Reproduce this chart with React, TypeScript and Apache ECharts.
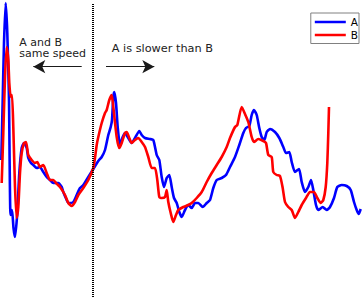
import React, { useEffect, useRef } from "react";
import * as echarts from "echarts";

// Series A (blue)
const aX = [1.3, 2.7, 4, 5.7, 7.3, 9, 10.5, 12, 13.5, 15, 17.3, 19.3, 21.7, 24, 26.7, 28.3, 31, 33.3, 36.7, 40, 43.3, 46.7, 50, 53.3, 58.3, 61.7, 63.3, 66.7, 68.3, 70, 73.3, 76.7, 80, 83.3, 88.3, 93.3, 98.3, 101.7, 105, 108.3, 110.7, 112, 113.3, 114.3, 116, 117.7, 120, 122.7, 125, 128.3, 131.7, 135, 139.3, 141.7, 145, 150, 153.3, 156.7, 159.3, 161.7, 164, 166.7, 169.3, 171.7, 174, 176.7, 179.3, 181.7, 185, 188.3, 191.7, 195, 198.3, 202.7, 206.7, 210, 213.3, 216.7, 221.7, 226, 230, 235, 239.3, 243.3, 246, 249.3, 251.7, 254, 256.7, 259.3, 261.7, 264.3, 266.7, 270, 275, 279.3, 283.3, 286, 289.3, 291.7, 295, 299, 301.7, 305, 308.3, 311, 313.3, 316, 318.3, 322.7, 326.7, 330, 334, 337.3, 341.7, 346.7, 350.7, 354, 356.7, 358.7, 360.7];
const aY = [138, 198, 255, 295, 265, 198, 83, 88, 70, 61, 85, 125, 150, 155, 150, 140, 135, 133, 130, 131, 126, 121, 118, 115, 115, 111, 106, 98, 95, 95, 96, 103, 110, 113, 121, 129, 137, 141, 148, 163, 171, 178, 201, 206, 195, 171, 153, 161, 165, 160, 155, 160, 167, 163, 160, 159, 158, 143, 138, 121, 111, 120, 123, 111, 100, 95, 86, 81, 88, 93, 90, 95, 95, 91, 95, 98, 110, 118, 120, 123, 131, 141, 153, 165, 170, 172, 183, 188, 183, 170, 161, 158, 166, 169, 166, 160, 151, 145, 146, 136, 126, 129, 116, 106, 111, 118, 108, 93, 88, 91, 88, 91, 100, 111, 113, 112, 108, 96, 88, 84, 89];

// Series B (red)
const bX = [1.7, 3.3, 5, 6.7, 8.3, 9.3, 10.7, 12, 13.3, 15, 16.7, 18.3, 20, 21.7, 24, 26, 28.3, 31.7, 35, 37.3, 40, 43.3, 46.7, 50, 53.3, 56, 60, 65, 68.3, 71.7, 75, 78.3, 83.3, 88.3, 93.3, 95, 96.7, 98.3, 101.7, 105, 106.7, 109.3, 111.7, 113.3, 116.7, 119.3, 121.7, 125, 126.7, 129.3, 131.7, 135, 138.3, 141.7, 145, 148.3, 151.7, 155, 157.3, 159.3, 161.7, 165, 166.7, 168.3, 170.7, 173.3, 176, 178.3, 183.3, 188.3, 191.7, 196.7, 201.7, 206.7, 211.7, 216.7, 221.7, 226.7, 230, 235, 237.3, 241.7, 245, 248.3, 251.7, 254, 258.3, 263.3, 266, 268.3, 271.7, 273.3, 276.7, 280, 282.7, 285, 288.3, 291.7, 295, 298.3, 301.7, 306, 310, 314, 317.3, 320.7, 323.3, 325.7, 327.3, 328.3, 329];
const bY = [115, 165, 221, 251, 238, 215, 201, 203, 171, 111, 80, 91, 125, 145, 155, 156, 143, 138, 135, 136, 131, 133, 125, 118, 118, 115, 111, 103, 95, 92, 96, 103, 110, 118, 130, 140, 153, 161, 175, 185, 188, 198, 203, 191, 161, 150, 155, 165, 166, 160, 155, 158, 160, 156, 151, 141, 130, 130, 118, 101, 100, 101, 108, 96, 85, 76, 83, 88, 91, 93, 95, 100, 106, 116, 125, 133, 141, 151, 160, 171, 173, 191, 184, 176, 161, 156, 159, 157, 155, 143, 141, 126, 123, 122, 110, 96, 91, 88, 80, 86, 93, 100, 106, 106, 100, 95, 98, 111, 135, 165, 191];

const seriesNames = ["A", "B"];
const seriesColors = ["#0000ff", "#ff0000"];
const dividerX = 93;
const leftLabelLines = ["A and B", "same speed"];
const rightLabel = "A is slower than B";

export default function App() {
  const ref = useRef<HTMLDivElement>(null);
  useEffect(() => {
    const chart = echarts.init(ref.current!, null, { renderer: "svg" });
    const font = "'DejaVu Sans', sans-serif";
    const arrowStyle = { color: "#1a1a1a", width: 1, type: "solid" };
    chart.setOption({
      animation: false,
      backgroundColor: "#ffffff",
      grid: { left: 0, right: 0, top: 0, bottom: 0 },
      xAxis: { type: "value", min: 0, max: 364, show: false },
      yAxis: { type: "value", min: 0, max: 298, show: false },
      legend: {
        data: seriesNames,
        orient: "vertical",
        right: 5,
        top: 13,
        icon: "rect",
        itemWidth: 31,
        itemHeight: 2.5,
        itemGap: 0,
        padding: [2.5, 1, 2, 4],
        borderColor: "#808080",
        borderWidth: 1,
        borderRadius: 0,
        backgroundColor: "#ffffff",
        selectedMode: false,
        textStyle: { fontFamily: font, fontSize: 10.5, color: "#000", lineHeight: 13 },
      },
      series: [
        {
          name: seriesNames[0],
          type: "line",
          data: aX.map((x, i) => [x, aY[i]]),
          symbol: "none",
          showSymbol: false,
          smooth: 0.2,
          z: 2,
          lineStyle: { color: seriesColors[0], width: 2.6 },
          itemStyle: { color: seriesColors[0] },
          markLine: {
            silent: true,
            symbol: ["none", "none"],
            label: { show: false },
            emphasis: { disabled: true },
            data: [
              [
                { coord: [dividerX, 294], lineStyle: { color: "#000", width: 2, type: [1, 1] } },
                { coord: [dividerX, 0] },
              ],
              [
                { coord: [81.7, 231.3], lineStyle: arrowStyle },
                { coord: [33.3, 231.3], symbol: "arrow", symbolSize: [10, 12] },
              ],
              [
                { coord: [106, 231.3], lineStyle: arrowStyle },
                { coord: [154.3, 231.3], symbol: "arrow", symbolSize: [10, 12] },
              ],
            ],
          },
        },
        {
          name: seriesNames[1],
          type: "line",
          data: bX.map((x, i) => [x, bY[i]]),
          symbol: "none",
          showSymbol: false,
          smooth: 0.2,
          z: 3,
          lineStyle: { color: seriesColors[1], width: 2.6 },
          itemStyle: { color: seriesColors[1] },
        },
      ],
      graphic: [
        {
          type: "text",
          left: 19.3,
          top: 36.5,
          silent: true,
          style: { text: leftLabelLines[0], fontFamily: font, fontSize: 11, lineHeight: 11, fill: "#222" },
        },
        {
          type: "text",
          left: 19.3,
          top: 47.5,
          silent: true,
          style: { text: leftLabelLines[1], fontFamily: font, fontSize: 11, lineHeight: 11, fill: "#222" },
        },
        {
          type: "text",
          left: 111.7,
          top: 41.8,
          silent: true,
          style: { text: rightLabel, fontFamily: font, fontSize: 11.3, lineHeight: 13, fill: "#222" },
        },
      ],
    });
    return () => chart.dispose();
  }, []);
  return <div ref={ref} style={{ position: "fixed", left: 0, top: 0, width: 364, height: 298 }} />;
}
